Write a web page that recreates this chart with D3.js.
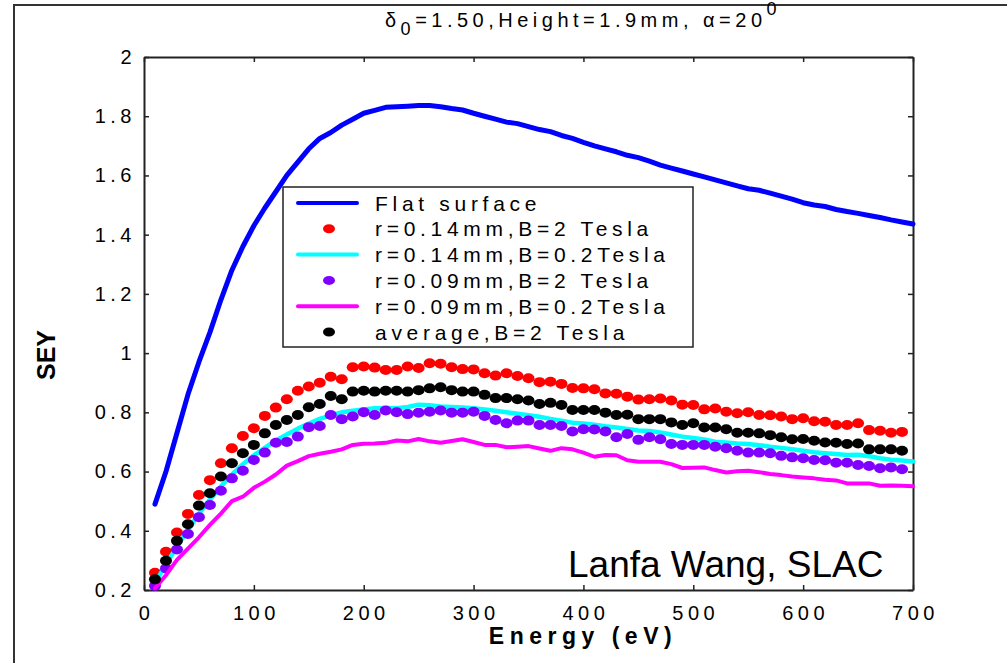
<!DOCTYPE html>
<html>
<head>
<meta charset="utf-8">
<title>SEY vs Energy</title>
<script src="https://d3js.org/d3.v7.min.js"></script>
<style>
  body { margin: 0; background: #fff; }
  svg { display: block; font-family: "Liberation Sans", Arial, sans-serif; }
  .axis .tick text { font-size: 20px; letter-spacing: 4.5px; fill: #000; }
  .axis .domain { stroke: #222; stroke-width: 2px; }
  .axis .tick line { stroke: #222; stroke-width: 1.5px; }
</style>
</head>
<body>
<div id="chart"></div>
<script>
// energies (eV) shared by all curves; the dotted series stop at 690
const energy = [10, 20, 30, 40, 50, 60, 70, 80, 90, 100,
  110, 120, 130, 140, 150, 160, 170, 180, 190, 200,
  210, 220, 230, 240, 250, 260, 270, 280, 290, 300,
  310, 320, 330, 340, 350, 360, 370, 380, 390, 400,
  410, 420, 430, 440, 450, 460, 470, 480, 490, 500,
  510, 520, 530, 540, 550, 560, 570, 580, 590, 600,
  610, 620, 630, 640, 650, 660, 670, 680, 690, 700];

const flatSurface = [0.49, 0.60, 0.73, 0.86, 0.97, 1.07, 1.18, 1.28, 1.36, 1.43,
  1.49, 1.545, 1.60, 1.645, 1.69, 1.725, 1.745, 1.77, 1.79, 1.81,
  1.82, 1.83, 1.832, 1.834, 1.836, 1.836, 1.832, 1.826, 1.821, 1.81,
  1.80, 1.79, 1.78, 1.775, 1.765, 1.755, 1.748, 1.735, 1.725, 1.712,
  1.70, 1.69, 1.68, 1.668, 1.66, 1.648, 1.635, 1.625, 1.615, 1.605,
  1.595, 1.585, 1.575, 1.565, 1.555, 1.55, 1.54, 1.53, 1.52, 1.508,
  1.50, 1.495, 1.485, 1.478, 1.472, 1.465, 1.458, 1.45, 1.443, 1.436];

const r014B2 = [0.258, 0.329, 0.394, 0.457, 0.521, 0.571, 0.628, 0.679, 0.72, 0.746,
  0.788, 0.816, 0.844, 0.873, 0.887, 0.90, 0.92, 0.912, 0.952, 0.955,
  0.951, 0.943, 0.943, 0.955, 0.95, 0.966, 0.964, 0.952, 0.946, 0.945,
  0.932, 0.924, 0.932, 0.923, 0.915, 0.902, 0.903, 0.896, 0.882, 0.881,
  0.878, 0.864, 0.863, 0.853, 0.843, 0.844, 0.847, 0.84, 0.826, 0.825,
  0.81, 0.813, 0.802, 0.797, 0.80, 0.791, 0.79, 0.786, 0.777, 0.78,
  0.77, 0.768, 0.757, 0.757, 0.763, 0.74, 0.738, 0.731, 0.734];

const r014B02 = [0.225, 0.285, 0.348, 0.402, 0.458, 0.505, 0.55, 0.59, 0.625, 0.655,
  0.68, 0.705, 0.725, 0.745, 0.762, 0.778, 0.79, 0.80, 0.805, 0.81,
  0.814, 0.815, 0.814, 0.818, 0.826, 0.824, 0.82, 0.818, 0.816, 0.814,
  0.81, 0.805, 0.80, 0.795, 0.79, 0.785, 0.778, 0.772, 0.765, 0.762,
  0.758, 0.753, 0.749, 0.744, 0.739, 0.737, 0.732, 0.725, 0.718, 0.713,
  0.708, 0.701, 0.698, 0.695, 0.693, 0.689, 0.684, 0.68, 0.675, 0.67,
  0.665, 0.662, 0.659, 0.656, 0.657, 0.652, 0.645, 0.64, 0.637, 0.634];

const r009B2 = [0.214, 0.273, 0.337, 0.389, 0.446, 0.487, 0.535, 0.577, 0.603, 0.639,
  0.664, 0.697, 0.70, 0.718, 0.75, 0.754, 0.791, 0.777, 0.786, 0.80,
  0.791, 0.806, 0.80, 0.794, 0.799, 0.802, 0.806, 0.799, 0.799, 0.802,
  0.788, 0.774, 0.763, 0.772, 0.772, 0.757, 0.757, 0.754, 0.735, 0.743,
  0.742, 0.735, 0.716, 0.727, 0.707, 0.716, 0.709, 0.693, 0.69, 0.69,
  0.69, 0.684, 0.679, 0.67, 0.664, 0.664, 0.662, 0.653, 0.648, 0.645,
  0.639, 0.638, 0.63, 0.63, 0.622, 0.619, 0.611, 0.614, 0.608];

const r009B02 = [0.206, 0.25, 0.302, 0.34, 0.378, 0.42, 0.458, 0.50, 0.515, 0.545,
  0.566, 0.59, 0.62, 0.635, 0.652, 0.66, 0.667, 0.675, 0.69, 0.694,
  0.695, 0.697, 0.705, 0.702, 0.71, 0.702, 0.697, 0.703, 0.709, 0.70,
  0.69, 0.69, 0.682, 0.684, 0.686, 0.678, 0.67, 0.679, 0.675, 0.664,
  0.65, 0.656, 0.655, 0.638, 0.633, 0.633, 0.633, 0.625, 0.612, 0.613,
  0.614, 0.605, 0.597, 0.601, 0.603, 0.598, 0.592, 0.588, 0.583, 0.58,
  0.577, 0.572, 0.57, 0.56, 0.56, 0.56, 0.552, 0.553, 0.552, 0.55];

const averageB2 = [0.236, 0.299, 0.366, 0.422, 0.485, 0.527, 0.583, 0.628, 0.662, 0.69,
  0.729, 0.757, 0.774, 0.791, 0.817, 0.828, 0.855, 0.844, 0.87, 0.873,
  0.87, 0.873, 0.873, 0.87, 0.875, 0.881, 0.885, 0.875, 0.87, 0.87,
  0.859, 0.848, 0.848, 0.844, 0.84, 0.828, 0.832, 0.825, 0.808, 0.808,
  0.808, 0.799, 0.791, 0.792, 0.777, 0.777, 0.777, 0.766, 0.757, 0.763,
  0.749, 0.749, 0.743, 0.731, 0.731, 0.729, 0.723, 0.716, 0.709, 0.71,
  0.704, 0.698, 0.697, 0.693, 0.695, 0.675, 0.675, 0.675, 0.67];

const legendLabels = ["Flat surface", "r=0.14mm,B=2 Tesla", "r=0.14mm,B=0.2Tesla",
  "r=0.09mm,B=2 Tesla", "r=0.09mm,B=0.2Tesla", "average,B=2 Tesla"];

const xTicks = [0, 100, 200, 300, 400, 500, 600, 700];
const yTicks = [0.2, 0.4, 0.6, 0.8, 1, 1.2, 1.4, 1.6, 1.8, 2];

// drawing order follows the legend
const series = [
  { values: flatSurface, type: "line", color: "#0000ff", width: 5 },
  { values: r014B2, type: "dot", color: "#ff0000" },
  { values: r014B02, type: "line", color: "#00ffff", width: 4.5 },
  { values: r009B2, type: "dot", color: "#8000ff" },
  { values: r009B02, type: "line", color: "#ff00ff", width: 4 },
  { values: averageB2, type: "dot", color: "#000000" }
];

const W = 1007, H = 663;
const plot = { left: 144, right: 913, top: 57, bottom: 590 };

const svg = d3.select("#chart").append("svg")
  .attr("width", W).attr("height", H);

// outer figure frame (left and top edges show)
svg.append("path")
  .attr("d", "M14," + H + "L14,5L" + W + ",5")
  .attr("fill", "none").attr("stroke", "#333").attr("stroke-width", 2);

const x = d3.scaleLinear().domain([0, 700]).range([plot.left, plot.right]);
const y = d3.scaleLinear().domain([0.2, 2]).range([plot.bottom, plot.top]);

// axes, ticks pointing into the plot
svg.append("g").attr("class", "axis")
  .attr("transform", "translate(0," + plot.bottom + ")")
  .call(d3.axisBottom(x).tickValues(xTicks).tickSizeInner(-5).tickSizeOuter(0).tickPadding(10))
  .call(g => g.selectAll(".tick text").attr("dx", "2px").attr("dy", "1.0em"));

svg.append("g").attr("class", "axis")
  .attr("transform", "translate(" + plot.left + ",0)")
  .call(d3.axisLeft(y).tickValues(yTicks).tickFormat(d => String(d))
    .tickSizeInner(-5).tickSizeOuter(0).tickPadding(8));

svg.append("g").attr("class", "axis")
  .attr("transform", "translate(0," + plot.top + ")")
  .call(d3.axisTop(x).tickValues(xTicks).tickSizeInner(-5).tickSizeOuter(0).tickFormat(""));

svg.append("g").attr("class", "axis")
  .attr("transform", "translate(" + plot.right + ",0)")
  .call(d3.axisRight(y).tickValues(yTicks).tickSizeInner(-5).tickSizeOuter(0).tickFormat(""));

// curves
const line = d3.line()
  .x((d, i) => x(energy[i]))
  .y(d => y(d));

series.forEach(s => {
  if (s.type === "line") {
    svg.append("path")
      .datum(s.values)
      .attr("fill", "none")
      .attr("stroke", s.color)
      .attr("stroke-width", s.width)
      .attr("stroke-linejoin", "round")
      .attr("stroke-linecap", "round")
      .attr("d", line);
  } else {
    svg.append("g").selectAll("ellipse")
      .data(s.values)
      .enter().append("ellipse")
      .attr("cx", (d, i) => x(energy[i]))
      .attr("cy", d => y(d))
      .attr("rx", 6)
      .attr("ry", 5)
      .attr("fill", s.color);
  }
});

// legend
const legend = svg.append("g").attr("transform", "translate(283,187)");
legend.append("rect")
  .attr("width", 410).attr("height", 160)
  .attr("fill", "#fff").attr("stroke", "#222").attr("stroke-width", 1.5);

legendLabels.forEach((label, i) => {
  const s = series[i];
  const row = legend.append("g").attr("transform", "translate(0," + (16 + i * 25.8) + ")");
  if (s.type === "line") {
    row.append("line")
      .attr("x1", 15).attr("x2", 74)
      .attr("stroke", s.color).attr("stroke-width", 4).attr("stroke-linecap", "round");
  } else {
    row.append("ellipse")
      .attr("cx", 46).attr("rx", 6).attr("ry", 4.5).attr("fill", s.color);
  }
  row.append("text")
    .attr("x", 92).attr("dy", "0.36em")
    .style("font-size", "21px").style("letter-spacing", "4.7px")
    .text(label);
});

// title
const title = svg.append("text")
  .attr("x", 583).attr("y", 27)
  .attr("text-anchor", "middle")
  .style("font-size", "20px").style("letter-spacing", "4.5px");
title.append("tspan").text("δ");
title.append("tspan").attr("dy", 8).style("font-size", "18px").text("0");
title.append("tspan").attr("dy", -8).text("=1.50,Height=1.9mm, α=20");
title.append("tspan").attr("dy", -12).style("font-size", "18px").text("0");

// axis labels
svg.append("text")
  .attr("transform", "translate(55,355) rotate(-90)")
  .attr("text-anchor", "middle")
  .style("font-size", "25px").style("font-weight", "bold")
  .text("SEY");

svg.append("text")
  .attr("x", 583).attr("y", 644)
  .attr("text-anchor", "middle")
  .style("font-size", "23px").style("font-weight", "bold").style("letter-spacing", "5.5px")
  .text("Energy (eV)");

// author note
svg.append("text")
  .attr("x", 568).attr("y", 577)
  .style("font-size", "37px")
  .text("Lanfa Wang, SLAC");
</script>
</body>
</html>
